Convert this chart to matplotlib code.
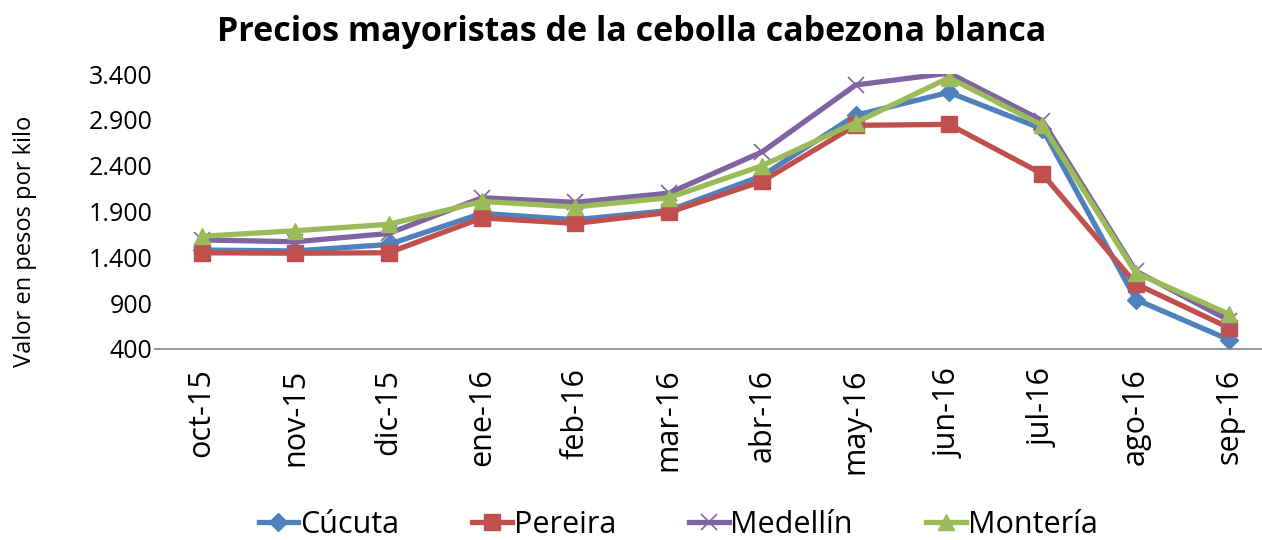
import matplotlib
matplotlib.use("Agg")
import matplotlib.pyplot as plt

months = ["oct-15", "nov-15", "dic-15", "ene-16", "feb-16", "mar-16",
          "abr-16", "may-16", "jun-16", "jul-16", "ago-16", "sep-16"]
cucuta = [1480, 1470, 1540, 1880, 1810, 1910, 2290, 2950, 3200, 2800, 940, 500]
pereira = [1450, 1445, 1450, 1830, 1770, 1890, 2230, 2840, 2850, 2310, 1110, 630]
medellin = [1590, 1570, 1660, 2050, 2000, 2100, 2550, 3280, 3410, 2890, 1250, 710]
monteria = [1630, 1690, 1760, 2010, 1950, 2050, 2400, 2870, 3360, 2840, 1230, 780]
yticks = [400, 900, 1400, 1900, 2400, 2900, 3400]
ytick_labels = ["400", "900", "1.400", "1.900", "2.400", "2.900", "3.400"]

plt.rcParams['font.family'] = ['Open Sans', 'DejaVu Sans']

fig = plt.figure(figsize=(12.62, 5.40), dpi=100)
ax = fig.add_axes([155/1262, 1-349/540, (1276-155)/1262, (349-74)/540])

x = list(range(len(months)))
lw = 3.8
ax.plot(x, cucuta, color="#4F81BD", lw=lw, marker="D", ms=9, label="Cúcuta")
ax.plot(x, pereira, color="#C0504D", lw=lw, marker="s", ms=11, label="Pereira")
ax.plot(x, medellin, color="#8064A2", lw=lw, marker="x", ms=11, mew=1.2, label="Medellín")
ax.plot(x, monteria, color="#9BBB59", lw=lw, marker="^", ms=12, label="Montería")

ax.set_xlim(-0.5, len(months) - 0.5)
ax.set_ylim(400, 3400)
ax.set_yticks(yticks)
ax.set_yticklabels(ytick_labels, fontsize=18)
ax.set_xticks(x)
ax.set_xticklabels(months, rotation=90, fontsize=22)
ax.tick_params(axis="both", length=0)
ax.tick_params(axis="x", pad=14)
ax.tick_params(axis="y", pad=2)
for s in ["top", "right", "left"]:
    ax.spines[s].set_visible(False)
ax.spines["bottom"].set_color("#868686")
ax.spines["bottom"].set_linewidth(1.2)

fig.text(25/1262, 1-241/540, "Valor en pesos por kilo", rotation=90,
         ha="center", va="center", fontsize=17)
fig.text(632/1262, 1-32/540, "Precios mayoristas de la cebolla cabezona blanca",
         ha="center", va="center", fontsize=24.5, fontweight="bold")

fig.legend(loc="center", bbox_to_anchor=(678/1262, 1-525/540), ncol=4, frameon=False,
           fontsize=22, handlelength=1.3, handletextpad=0.05, columnspacing=2.4)

fig.savefig("out.png", dpi=100)
